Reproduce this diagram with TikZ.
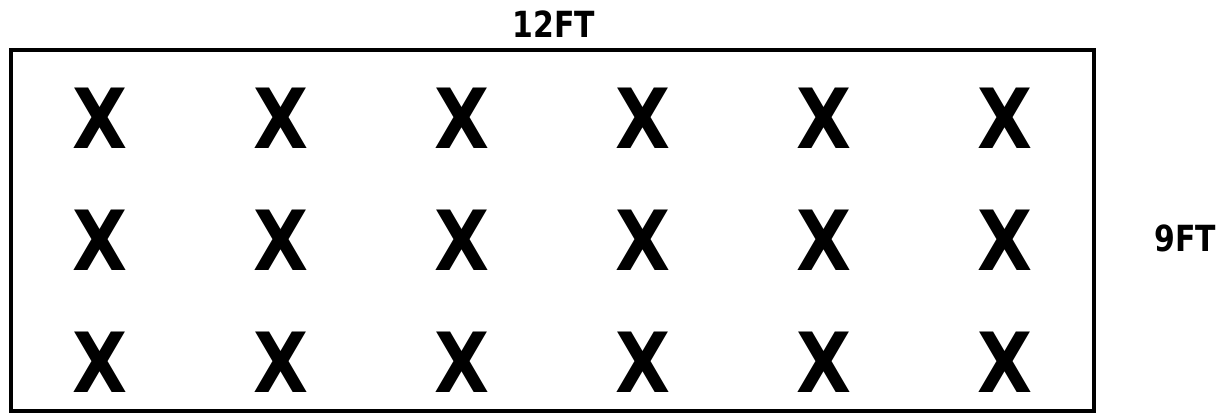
\documentclass[tikz,border=0pt]{standalone}
\usepackage{fontspec}
\setmainfont{DejaVu Sans}
\begin{document}
\begin{tikzpicture}[x=1pt,y=-1pt,
  xmark/.style={font=\fontsize{83}{83}\selectfont\bfseries, inner sep=0pt, xscale=0.86},
  dimlabel/.style={font=\fontsize{36}{36}\selectfont\bfseries, inner sep=0pt, xscale=0.83},
  frame/.style={draw=black, line width=4pt}]
\useasboundingbox (0,0) rectangle (1225,418);
\node[frame, minimum width=1083pt, minimum height=361pt, inner sep=0pt] (room) at (552.5,230.5) {};
\foreach \c [count=\i] in {100,281,462,643,824,1005}{
  \foreach \r [count=\j] in {118,240,362}{
    \node[xmark] (x\i\j) at (\c,\r) {X};
  }
}
\node[dimlabel] (w) at (554,24) {12FT};
\node[dimlabel] (h) at (1185,238) {9FT};
\end{tikzpicture}
\end{document}
